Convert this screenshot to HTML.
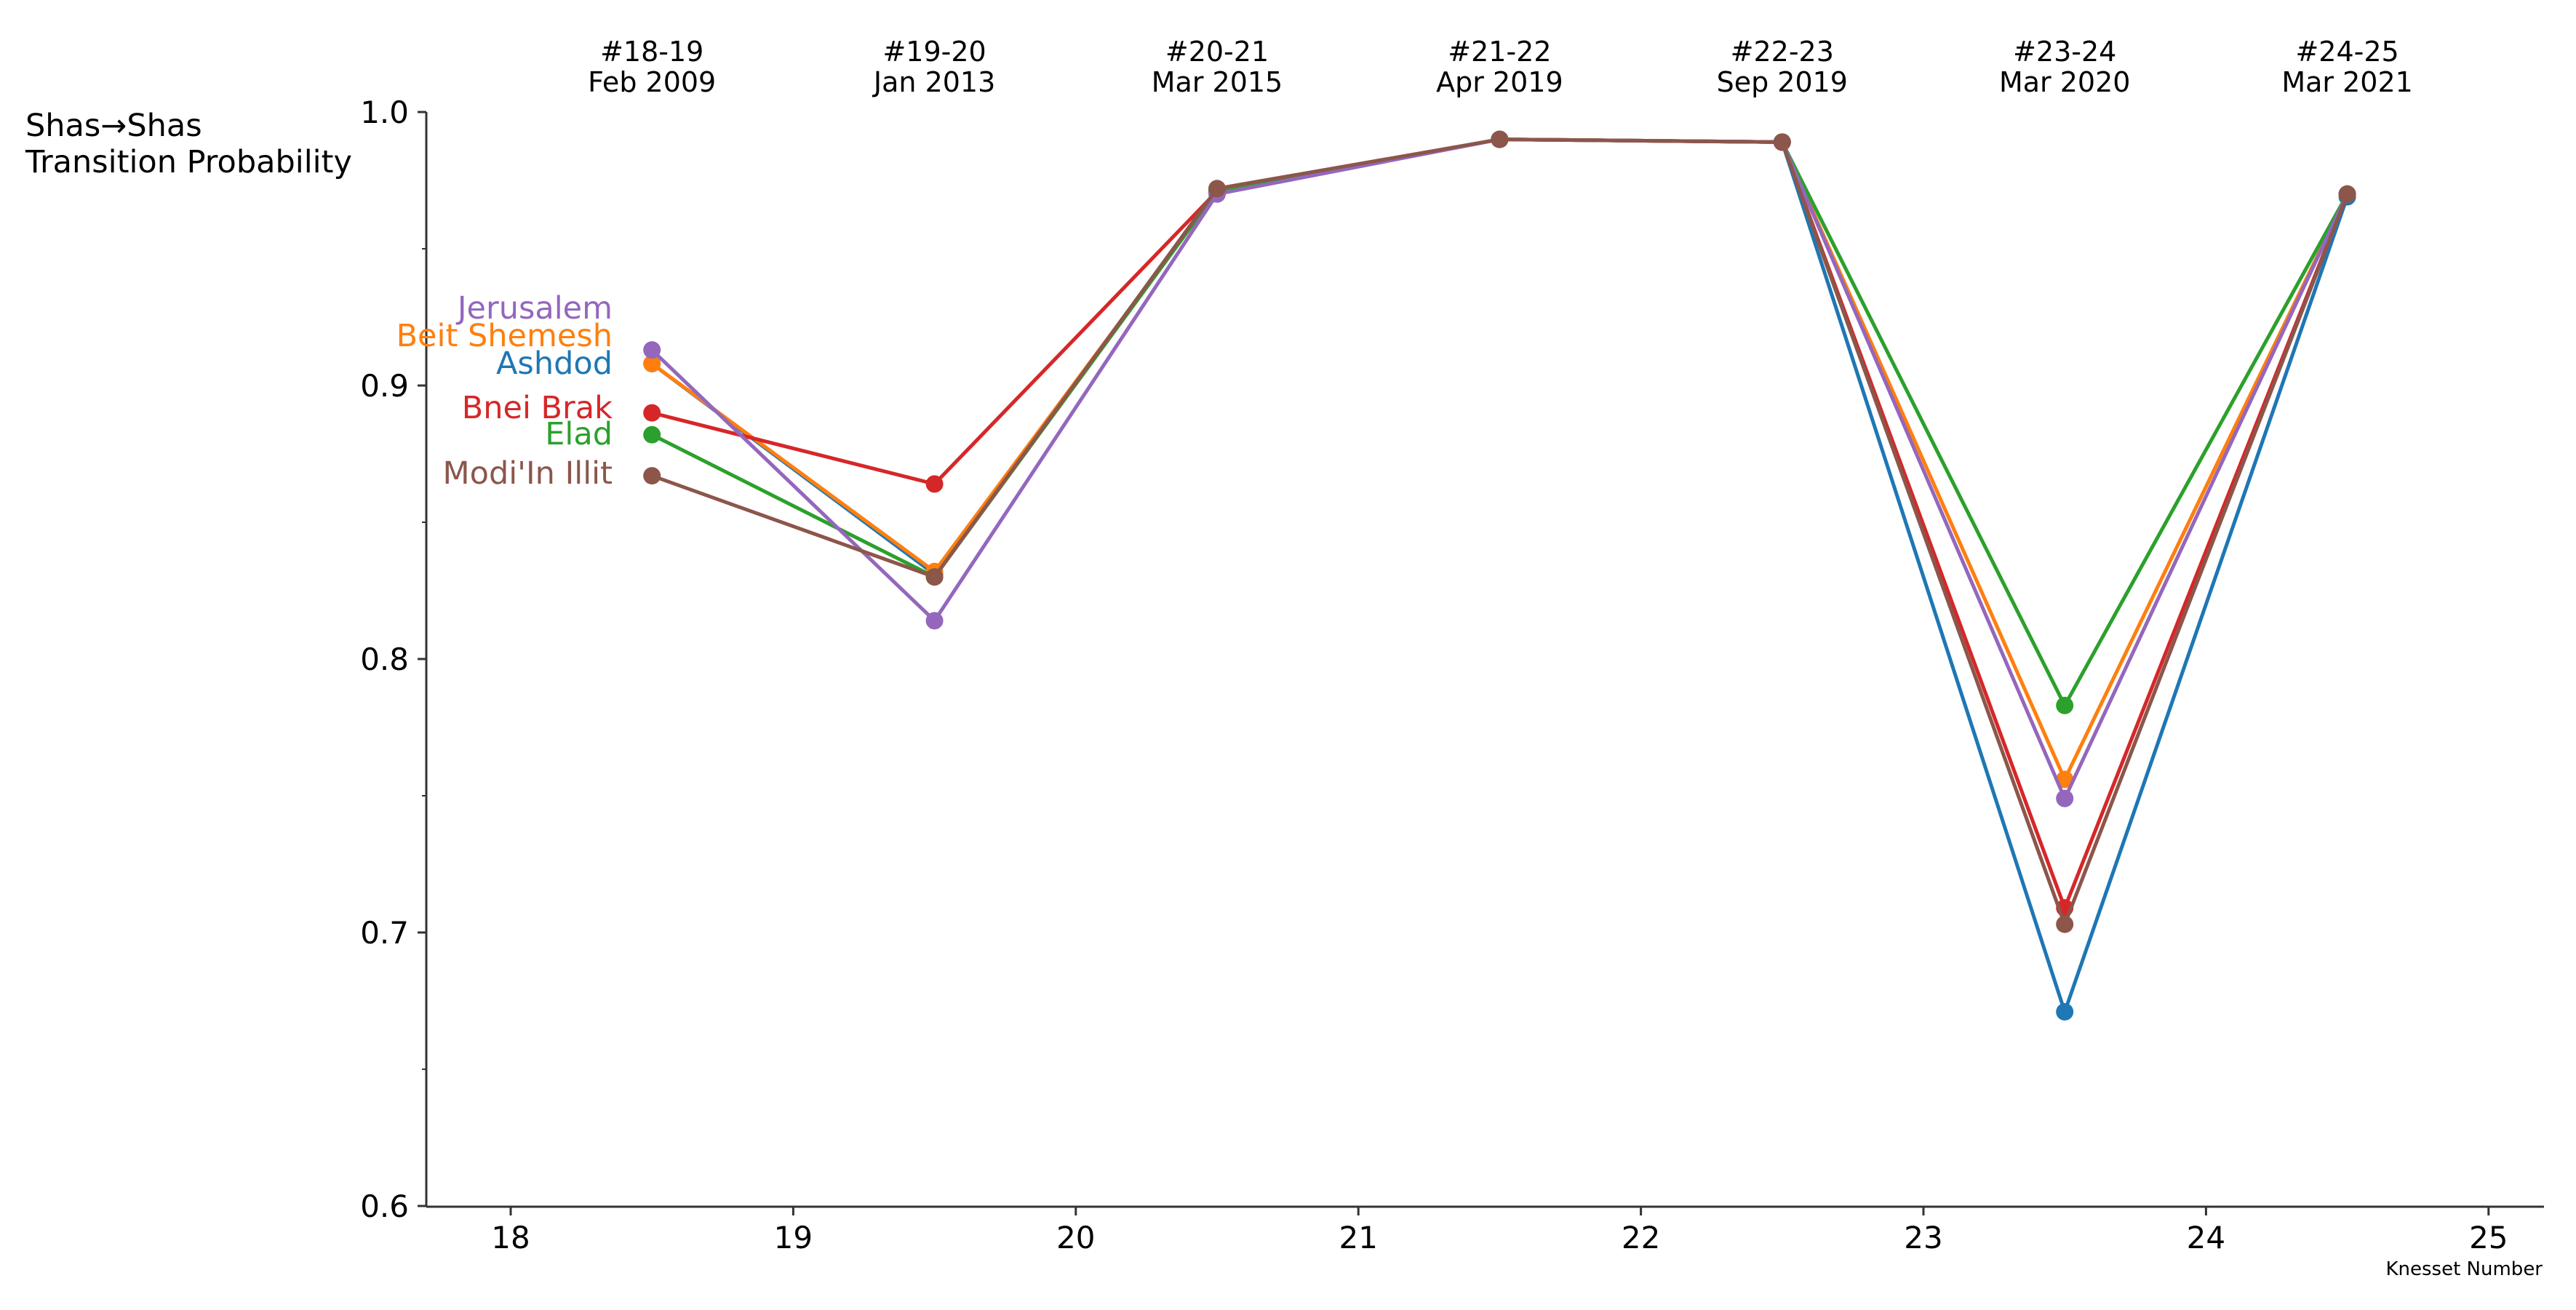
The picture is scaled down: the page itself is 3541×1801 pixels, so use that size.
<!DOCTYPE html>
<html><head><meta charset="utf-8"><style>
html,body{margin:0;padding:0;background:#fff;}
svg{display:block;font-family:"DejaVu Sans","Liberation Sans",sans-serif;}
</style></head><body>
<svg id="chart" width="3541" height="1801" viewBox="0 0 3541 1801" xmlns="http://www.w3.org/2000/svg">
<rect width="3541" height="1801" fill="#fff"/>
<g id="axes"></g>
<g id="series"></g>
</svg>
<script>
const categories = [18.5, 19.5, 20.5, 21.5, 22.5, 23.5, 24.5];
const topLabels1 = ["#18-19","#19-20","#20-21","#21-22","#22-23","#23-24","#24-25"];
const topLabels2 = ["Feb 2009","Jan 2013","Mar 2015","Apr 2019","Sep 2019","Mar 2020","Mar 2021"];
const seriesNames = ["Jerusalem","Beit Shemesh","Ashdod","Bnei Brak","Elad","Modi'In Illit"];
const seriesColors = ["#9467bd","#ff7f0e","#1f77b4","#d62728","#2ca02c","#8c564b"];
const jerusalem = [0.913, 0.814, 0.970, 0.990, 0.989, 0.749, 0.970];
const beitShemesh = [0.908, 0.832, 0.971, 0.990, 0.989, 0.756, 0.970];
const ashdod = [0.908, 0.831, 0.971, 0.990, 0.989, 0.671, 0.969];
const bneiBrak = [0.890, 0.864, 0.971, 0.990, 0.989, 0.709, 0.970];
const elad = [0.882, 0.830, 0.971, 0.990, 0.989, 0.783, 0.970];
const modiin = [0.867, 0.830, 0.972, 0.990, 0.989, 0.703, 0.970];
const xTicks = [18,19,20,21,22,23,24,25];
const yTicks = [0.6,0.7,0.8,0.9,1.0];
const yMinorTicks = [0.65,0.75,0.85,0.95];

const NS="http://www.w3.org/2000/svg";
const X=v=>702+(v-18)*388.4;
const Y=v=>154+(1-v)*3760;
function el(tag,attrs,parent,text){const e=document.createElementNS(NS,tag);for(const k in attrs)e.setAttribute(k,attrs[k]);if(text!==undefined)e.textContent=text;parent.appendChild(e);return e;}
const axes=document.getElementById('axes');
const ser=document.getElementById('series');

let e;
e=el('line',{x1:586,y1:154,x2:586,y2:1659,stroke:'#333','stroke-width':3},axes);


e=el('line',{x1:586,y1:1659,x2:3497,y2:1659,stroke:'#333','stroke-width':3},axes);



yTicks.forEach(v=>{
  e=el('line',{x1:574,y1:Y(v),x2:586,y2:Y(v),stroke:'#333','stroke-width':3},axes);
  
  
  e=el('text',{x:562,y:Y(v)+15,'text-anchor':'end','font-size':42,fill:'#000'},axes,v.toFixed(1));
  
  
});
yMinorTicks.forEach(v=>{
  e=el('line',{x1:580,y1:Y(v),x2:586,y2:Y(v),stroke:'#333','stroke-width':2},axes);
  
  
});
xTicks.forEach(v=>{
  e=el('line',{x1:X(v),y1:1659,x2:X(v),y2:1671,stroke:'#333','stroke-width':3},axes);
  
  
  e=el('text',{x:X(v),y:1716,'text-anchor':'middle','font-size':42,fill:'#000'},axes,String(v));
  
  
});
categories.forEach((c,i)=>{
  e=el('text',{x:X(c),y:84,'text-anchor':'middle','font-size':38,fill:'#000'},axes,topLabels1[i]);
  
  
  e=el('text',{x:X(c),y:126,'text-anchor':'middle','font-size':38,fill:'#000'},axes,topLabels2[i]);
  
  
});
e=el('text',{x:35,y:187,'font-size':43,fill:'#000'},axes,'Shas→Shas');


e=el('text',{x:35,y:237,'font-size':43,fill:'#000'},axes,'Transition Probability');


e=el('text',{x:3495,y:1753,'text-anchor':'end','font-size':26,fill:'#000'},axes,'Knesset Number');



const allSeries=[jerusalem,beitShemesh,ashdod,bneiBrak,elad,modiin];
const labelY=[423,461,499,560,596,650];
const drawOrder=[2,1,3,4,0,5];
drawOrder.forEach(si=>{
  const vals=allSeries[si];const col=seriesColors[si];
  const pts=vals.map((v,i)=>X(categories[i])+','+Y(v)).join(' ');
  e=el('polyline',{points:pts,fill:'none',stroke:col,'stroke-width':5,'stroke-linejoin':'round'},ser);
  
  
  vals.forEach((v,i)=>{
    e=el('circle',{cx:X(categories[i]),cy:Y(v),r:12,fill:col},ser);
    
    
  });
});
seriesNames.forEach((n,si)=>{
  e=el('text',{x:842,y:labelY[si]+15,'text-anchor':'end','font-size':43,fill:seriesColors[si]},axes,n);
  
  
});
</script>
</body></html>
